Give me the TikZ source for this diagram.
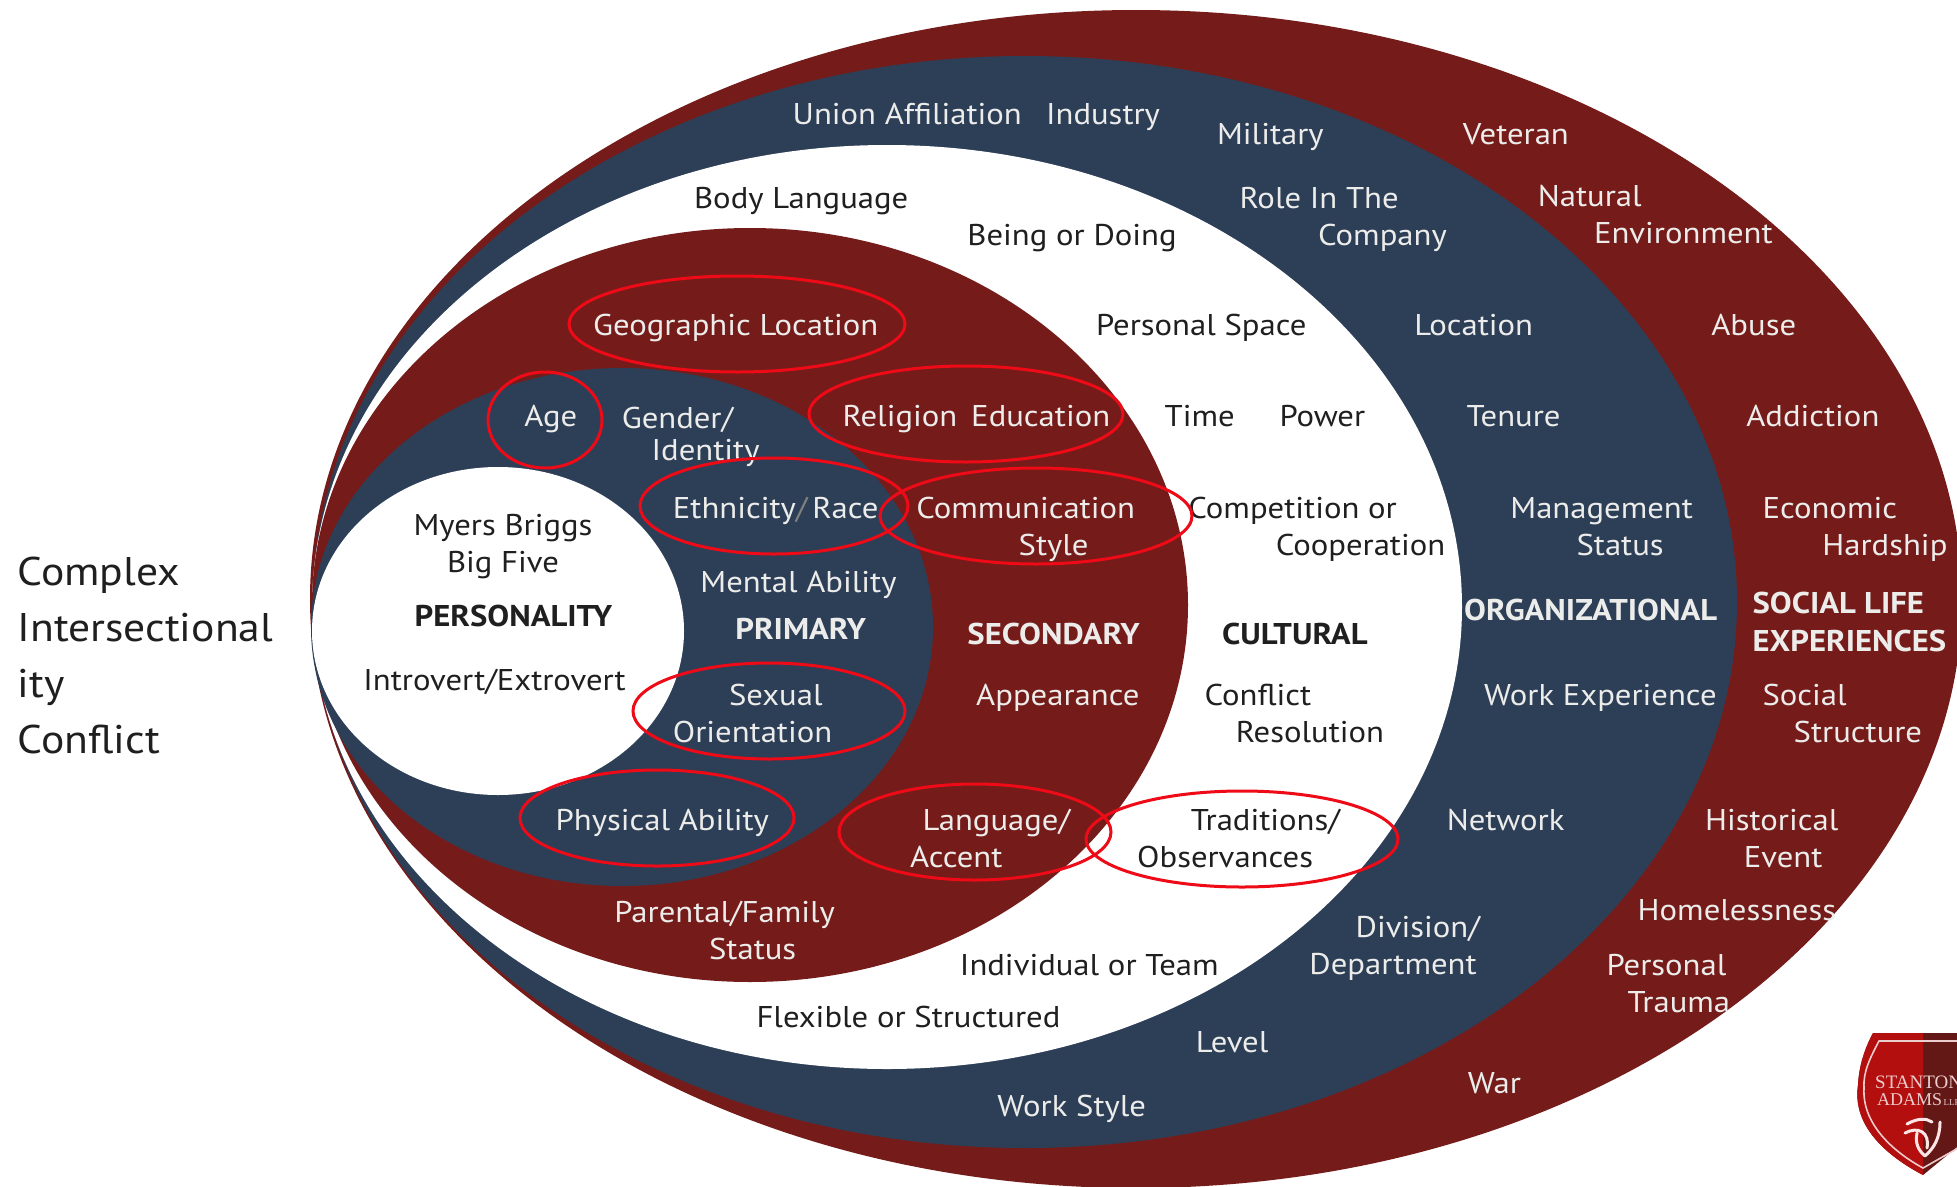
\documentclass[tikz,border=0pt]{standalone}
\usepackage{fontspec}
\setmainfont[FakeStretch=1.09]{PT Sans}
\newfontfamily\logofont{Liberation Serif}
\definecolor{dred}{RGB}{117,28,26}
\definecolor{dnavy}{RGB}{45,62,87}
\definecolor{mark}{RGB}{238,10,22}
\definecolor{ltxt}{RGB}{236,236,234}
\definecolor{logopink}{RGB}{236,205,205}
\newcommand\ind[1]{\hspace*{\dimexpr#1pt*1248/1000\relax}}
\tikzset{
  lab/.style={anchor=west,inner sep=0pt,align=left,font=\fontsize{30}{37.4}\selectfont},
  onDark/.style={lab,text=ltxt},
  onLight/.style={lab,text=black!88},
  headDark/.style={onDark,font=\fontsize{30}{37.4}\selectfont\bfseries},
  headLight/.style={onLight,font=\fontsize{30}{37.4}\selectfont\bfseries},
  ring/.style={draw=mark,line width=3pt,fill=none},
  disp/.style={x=1.2481pt,y=-1.2484pt},
  px/.style={x=1pt,y=-1pt},
}
\begin{document}
\begin{tikzpicture}[px]
\useasboundingbox (0,0) rectangle (1957,1186);
\clip (0,0) rectangle (1957,1186);
\fill[white] (0,0) rectangle (1957,1186);
% nested ellipses
\fill[dred] (1136,599) ellipse [x radius=826pt,y radius=589pt];
\fill[dnavy] (1025,602) ellipse [x radius=712pt,y radius=546pt];
\fill[white] (887,607) ellipse [x radius=575pt,y radius=462pt];
\fill[dred] (750,605) ellipse [x radius=438pt,y radius=377pt];
\fill[dnavy] (622,627) ellipse [x radius=311pt,y radius=259pt];
\fill[white] (498,631) ellipse [x radius=186pt,y radius=164pt];
% logo
\fill[dred!85!black] (1873,1033) -- (1990,1033) -- (1990,1120) -- (1923,1175) .. controls (1885,1155) and (1852,1125) .. (1858,1085) .. controls (1859,1065) and (1865,1048) .. (1873,1033) -- cycle;
\fill[red!45!dred] (1873,1033) -- (1923,1033) -- (1923,1175) .. controls (1885,1155) and (1852,1125) .. (1858,1085) .. controls (1859,1065) and (1865,1048) .. (1873,1033) -- cycle;
\draw[logopink,line width=1.6pt] (1990,1041) -- (1879,1041) .. controls (1870,1058) and (1863,1072) .. (1864,1088) .. controls (1862,1122) and (1890,1150) .. (1923,1168) -- (1990,1130);
\node[anchor=west,inner sep=0pt,text=logopink,font=\logofont\fontsize{19}{20}\selectfont] (logoA) at (1875,1082) {STANTON};
\node[anchor=west,inner sep=0pt,text=logopink,font=\logofont\fontsize{18}{20}\selectfont] (logoB) at (1877,1100) {ADAMS{\fontsize{9}{10}\selectfont\,LLP}};
\draw[white!90!red,line width=3pt,line cap=round] (1907,1124) .. controls (1918,1118) and (1926,1118) .. (1932,1122)
  (1905,1133) .. controls (1918,1126) and (1930,1132) .. (1927,1148)
  (1940,1122) .. controls (1940,1138) and (1934,1148) .. (1925,1156)
  (1917,1133) .. controls (1915,1143) and (1918,1150) .. (1925,1156);
\begin{scope}[disp,yshift=-2.5pt]
\node[onLight,font=\fontsize{40}{56}\selectfont] (title) at (14,525.5) {\strut Complex\\\strut Intersectional\\\strut ity\\\strut Conflict};
\node[onDark] (union) at (635,92) {\strut Union Affiliation};
\node[onDark] (industry) at (838,92) {\strut Industry};
\node[onDark] (military) at (975,108) {\strut Military};
\node[onDark] (veteran) at (1172,108) {\strut Veteran};
\node[onLight] (body) at (556,159) {\strut Body Language};
\node[onDark] (natural) at (1232,172) {\strut Natural\\\ind{45}\strut Environment};
\node[onLight] (being) at (775,189) {\strut Being or Doing};
\node[onDark] (role) at (993,174) {\strut Role In The\\\ind{63}\strut Company};
\node[onDark] (geo) at (475,261) {\strut Geographic Location};
\node[onLight] (space) at (878,261) {\strut Personal Space};
\node[onDark] (location) at (1133,261) {\strut Location};
\node[onDark] (abuse) at (1371,261) {\strut Abuse};
\node[onDark] (age) at (420,334) {\strut Age};
\node[onDark] (gender) at (498,348) {\strut Gender/\\[-6pt]\ind{24}\strut Identity};
\node[onDark] (religion) at (675,334) {\strut Religion};
\node[onDark] (education) at (778,334) {\strut Education};
\node[onLight] (time) at (933,334) {\strut Time};
\node[onLight] (power) at (1025,334) {\strut Power};
\node[onDark] (tenure) at (1175,334) {\strut Tenure};
\node[onDark] (addiction) at (1399,334) {\strut Addiction};
\node[onLight,anchor=center,align=center] (myers) at (403,436) {\strut Myers Briggs\\\strut Big Five};
\node[onDark] (ethnicity) at (539,407) {\strut Ethnicity{\color{gray}/}\,Race};
\node[onDark] (comm) at (734,422) {\strut Communication\\\ind{82}\strut Style};
\node[onLight] (compet) at (952,422) {\strut Competition or\\\ind{70}\strut Cooperation};
\node[onDark] (manage) at (1210,422) {\strut Management\\\ind{53}\strut Status};
\node[onDark] (economic) at (1412,422) {\strut Economic\\\ind{48}\strut Hardship};
\node[onDark] (mental) at (561,467) {\strut Mental Ability};
\node[headLight] (personality) at (332,494) {\strut PERSONALITY};
\node[headDark] (primary) at (589,504) {\strut PRIMARY};
\node[headDark] (secondary) at (775,508) {\strut SECONDARY};
\node[headLight] (cultural) at (979,508) {\strut CULTURAL};
\node[headDark] (organizational) at (1173,489) {\strut ORGANIZATIONAL};
\node[headDark] (social) at (1404,498.5) {\strut SOCIAL LIFE\\\strut EXPERIENCES};
\node[onLight] (introvert) at (291,545) {\strut Introvert/Extrovert};
\node[onDark] (sexual) at (539,572) {\ind{45}\strut Sexual\\\strut Orientation};
\node[onDark] (appearance) at (782,557) {\strut Appearance};
\node[onLight] (conflict) at (965,572) {\strut Conflict\\\ind{25}\strut Resolution};
\node[onDark] (work) at (1189,557) {\strut Work Experience};
\node[onDark] (structure) at (1412,572) {\strut Social\\\ind{25}\strut Structure};
\node[onDark] (physical) at (445,657) {\strut Physical Ability};
\node[onDark] (language) at (729,672) {\ind{10}\strut Language/\\\strut Accent};
\node[onLight] (traditions) at (911,672) {\ind{43}\strut Traditions/\\\strut Observances};
\node[onDark] (network) at (1159,657) {\strut Network};
\node[onDark] (historical) at (1366,672) {\strut Historical\\\ind{31}\strut Event};
\node[onDark] (homeless) at (1312,729) {\strut Homelessness};
\node[onDark] (parental) at (492,746) {\strut Parental/Family\\\ind{76}\strut Status};
\node[onDark] (division) at (1049,758) {\ind{37}\strut Division/\\\strut Department};
\node[onLight] (individual) at (769,773) {\strut Individual or Team};
\node[onDark] (trauma) at (1287,788) {\strut Personal\\\ind{17}\strut Trauma};
\node[onLight] (flexible) at (606,815) {\strut Flexible or Structured};
\node[onDark] (level) at (958,835) {\strut Level};
\node[onDark] (war) at (1176,868) {\strut War};
\node[onDark] (workstyle) at (799,886) {\strut Work Style};
\end{scope}
% red highlight ellipses
\draw[ring] (737,324) ellipse [x radius=168pt,y radius=48pt];
\draw[ring] (545,420) ellipse [x radius=57pt,y radius=48pt];
\draw[ring] (966,414) ellipse [x radius=157pt,y radius=48pt];
\draw[ring] (774,506) ellipse [x radius=134pt,y radius=48pt];
\draw[ring] (1036,516) ellipse [x radius=156pt,y radius=48pt];
\draw[ring] (769,711) ellipse [x radius=136pt,y radius=48pt];
\draw[ring] (657,818) ellipse [x radius=137pt,y radius=48pt];
\draw[ring] (975,832) ellipse [x radius=136pt,y radius=48pt];
\draw[ring] (1242,839) ellipse [x radius=156pt,y radius=48pt];
\end{tikzpicture}
\end{document}
